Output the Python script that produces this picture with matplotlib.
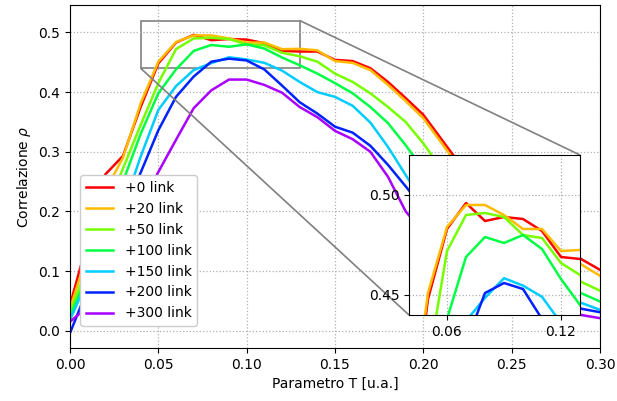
import numpy as np
import matplotlib
matplotlib.use('Agg')
import matplotlib.pyplot as plt
from mpl_toolkits.axes_grid1.inset_locator import mark_inset

# -------------------------- data --------------------------
T = np.round(np.arange(0, 0.301, 0.01), 2)

labels = ['+0 link', '+20 link', '+50 link', '+100 link',
          '+150 link', '+200 link', '+300 link']

rho_0 = [0.043, 0.150, 0.262, 0.293, 0.375, 0.448, 0.483, 0.496, 0.487, 0.489,
         0.488, 0.482, 0.469, 0.468, 0.468, 0.454, 0.452, 0.440, 0.417, 0.390,
         0.362, 0.322, 0.282, 0.250, 0.225, 0.200, 0.180, 0.160, 0.138, 0.119,
         0.102]
rho_20 = [0.037, 0.130, 0.235, 0.290, 0.381, 0.451, 0.484, 0.495, 0.495, 0.490,
          0.483, 0.483, 0.472, 0.4725, 0.470, 0.452, 0.449, 0.437, 0.412, 0.385,
          0.356, 0.316, 0.275, 0.240, 0.212, 0.190, 0.170, 0.150, 0.128, 0.110,
          0.092]
rho_50 = [0.029, 0.110, 0.200, 0.272, 0.345, 0.415, 0.472, 0.490, 0.491, 0.489,
          0.480, 0.4785, 0.466, 0.460, 0.451, 0.431, 0.417, 0.398, 0.375, 0.350,
          0.314, 0.272, 0.235, 0.205, 0.178, 0.155, 0.135, 0.115, 0.097, 0.081,
          0.067]
rho_100 = [0.024, 0.095, 0.180, 0.250, 0.330, 0.398, 0.438, 0.469, 0.479, 0.476,
           0.480, 0.473, 0.458, 0.445, 0.431, 0.415, 0.398, 0.375, 0.348, 0.311,
           0.270, 0.232, 0.200, 0.172, 0.148, 0.125, 0.106, 0.090, 0.075, 0.062,
           0.049]
rho_150 = [0.018, 0.085, 0.150, 0.205, 0.292, 0.370, 0.410, 0.437, 0.4486, 0.4584,
           0.4547, 0.4491, 0.436, 0.417, 0.400, 0.392, 0.377, 0.349, 0.308, 0.261,
           0.215, 0.178, 0.150, 0.126, 0.106, 0.090, 0.076, 0.065, 0.055, 0.046,
           0.035]
rho_200 = [-0.004, 0.070, 0.135, 0.195, 0.265, 0.336, 0.392, 0.426, 0.451, 0.456,
           0.453, 0.438, 0.411, 0.383, 0.364, 0.342, 0.332, 0.310, 0.278, 0.242,
           0.205, 0.172, 0.143, 0.118, 0.097, 0.080, 0.066, 0.055, 0.045, 0.0365,
           0.031]
rho_300 = [0.015, 0.040, 0.090, 0.150, 0.210, 0.266, 0.320, 0.373, 0.403, 0.421,
           0.421, 0.412, 0.399, 0.375, 0.358, 0.335, 0.321, 0.300, 0.258, 0.200,
           0.165, 0.138, 0.115, 0.095, 0.078, 0.064, 0.052, 0.042, 0.033, 0.026,
           0.021]

series = [rho_0, rho_20, rho_50, rho_100, rho_150, rho_200, rho_300]
colors = ['#ff0000', '#ffbb00', '#77ff00', '#00ff44', '#00ccff', '#0022ff', '#aa00ff']

# -------------------------- plot --------------------------
fig = plt.figure(figsize=(6.17, 4.01), dpi=100)
ax = fig.add_axes([70/617, 1 - 348/401, 530/617, 343/401])

for y, c, lab in zip(series, colors, labels):
    ax.plot(T, y, color=c, lw=1.8, label=lab)

ax.set_xlim(0, 0.30)
ax.set_ylim(-0.029, 0.546)
ax.set_xticks(np.arange(0, 0.301, 0.05))
ax.set_yticks(np.arange(0, 0.51, 0.1))
ax.grid(True, linestyle=':', color='#b0b0b0', linewidth=0.9)
ax.set_xlabel('Parametro T [u.a.]')
ax.set_ylabel(r'Correlazione $\rho$')
ax.legend(loc='lower left', bbox_to_anchor=(0.006, 0.044), framealpha=1.0)

# zoom on the peak
axins = fig.add_axes([409/617, 1 - 315/401, 171/617, 160/401])
for y, c in zip(series, colors):
    axins.plot(T, y, color=c, lw=1.8)
axins.set_xlim(0.04, 0.13)
axins.set_ylim(0.44, 0.52)
axins.set_xticks([0.06, 0.12])
axins.set_yticks([0.45, 0.50])
axins.set_xticklabels(['0.06', '0.12'])
axins.set_yticklabels(['0.45', '0.50'])
axins.grid(True, linestyle=':', color='#b0b0b0', linewidth=0.9)
mark_inset(ax, axins, loc1=1, loc2=3, fc='none', ec='0.5', lw=1.2)

fig.savefig('out.png', dpi=100)
